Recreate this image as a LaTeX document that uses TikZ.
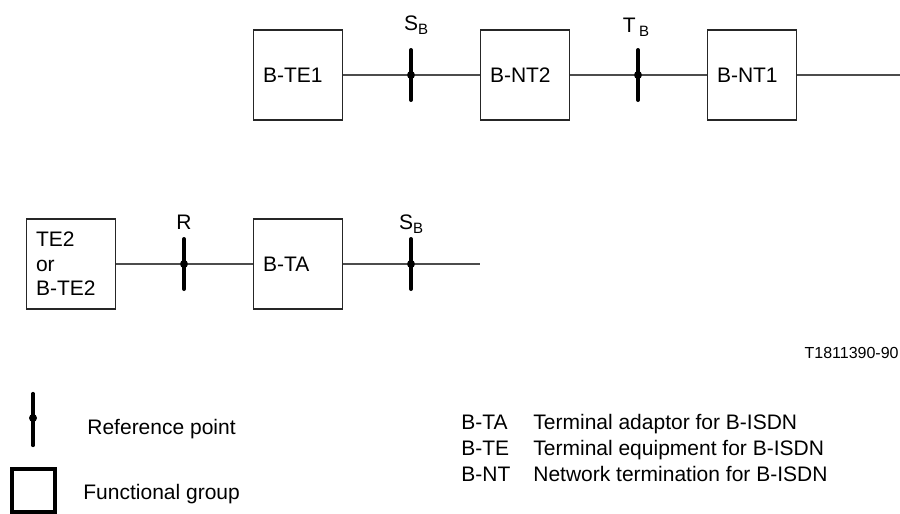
\documentclass[tikz,border=0pt]{standalone}
\usepackage{fontspec}
\setmainfont{Liberation Sans}
\newcommand{\lowsub}[1]{\raisebox{-1.8pt}{\fontsize{7.5}{8}\selectfont #1}}
\def\offset{227}

\begin{document}
\begin{tikzpicture}[x=0.5pt, y=-0.5pt]
        \tikzstyle{group} = [rectangle, draw=black!85, line width=0.7pt, minimum width=44.5pt, minimum height=45pt, inner sep=0pt, text width=35pt, align=left, font=\fontsize{10.5}{12.25}\selectfont]
        \tikzstyle{dot}   = [circle, fill=black, minimum size=4pt, inner sep=0pt]
        \tikzstyle{link}  = [draw=black!70, line width=0.9pt]
        \tikzstyle{bar}   = [line width=2pt, line cap=round]
        \tikzstyle{txt}   = [inner sep=0pt, font=\fontsize{10.5}{12.5}\selectfont]

        \useasboundingbox (0,0) rectangle (900,514);

                \foreach \i/\name/\lbl in {1/bte1/B-TE1, 2/bnt2/B-NT2, 3/bnt1/B-NT1}
                        \node [group](\name) at ({71 + \i * \offset}, 75) {\lbl};
                \node [group](te2) at (71, 264) {TE2\\or\\B-TE2};
                \node [group](bta) at ({71 + \offset}, 264) {B-TA};

                \foreach \name/\k/\yy in {sb1/1/75, tb/2/75, r/0/264, sb2/1/264}
                {
                        \node [dot](\name) at ({184 + \k * \offset}, \yy) {};
                        \draw [bar] (\name) ++(0,-25) -- ++(0,50);
                }

                \node [txt, anchor=base](sb1lbl) at (411, 31) {S\rlap{\lowsub{B}}};
                \node [txt, anchor=base](tblbl) at (636, 32.5) {T\,\lowsub{B}};
                \node [txt, anchor=base](rlbl) at (184, 229.5) {R};
                \node [txt, anchor=base](sb2lbl) at (406, 229.5) {S\rlap{\lowsub{B}}};

                \coordinate (topend) at (900, 75);
                \coordinate (botend) at (480, 264);
                \draw [link] (bte1) -- (sb1) -- (bnt2) -- (tb) -- (bnt1) -- (topend);
                \draw [link] (te2) -- (r) -- (bta) -- (sb2) -- (botend);

                \node [txt, anchor=base east, font=\fontsize{8}{9}\selectfont](fig) at (899, 358.5) {T1811390-90};

                \node [dot](legdot) at (33, 418) {};
                \draw [bar, line width=1.6pt] (legdot) ++(0,-24.5) -- ++(0,52);
                \node [txt, anchor=base west](refpt) at (87, 434) {Reference point};
                \node [rectangle, draw, line width=2pt, minimum size=21.5pt, inner sep=0pt](leggroup) at (33.5, 490) {};
                \node [txt, anchor=base west](fgroup) at (83, 499) {Functional group};

                \foreach \i/\abbr/\desc in {0/B-TA/Terminal adaptor for B-ISDN, 1/B-TE/Terminal equipment for B-ISDN, 2/B-NT/Network termination for B-ISDN}
                {
                        \node [txt, anchor=base west](abbr\i) at (461, {429 + \i * 26}) {\abbr};
                        \node [txt, anchor=base west](desc\i) at (533, {429 + \i * 26}) {\desc};
                }
\end{tikzpicture}
\end{document}
